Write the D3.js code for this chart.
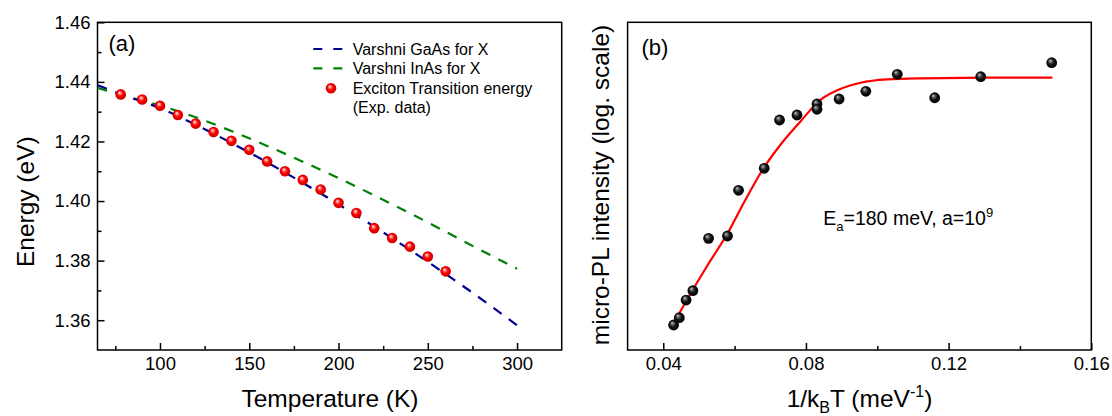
<!DOCTYPE html>
<html><head><meta charset="utf-8">
<script src="https://cdn.jsdelivr.net/npm/d3@7/dist/d3.min.js"></script>
<style>
body{margin:0;background:#fff}
text{font-family:"Liberation Sans",Arial,sans-serif;fill:#000}
</style>
</head><body>
<svg id="c" width="1112" height="416"></svg>
<script>
// ---------- data: panel (a) ----------
const expT = [78, 90, 100, 110, 120, 130, 140, 150, 160, 170, 180, 190, 200, 210, 220, 230, 240, 250, 260];
const expE = [1.4358, 1.4341, 1.4320, 1.4289, 1.4260, 1.4232, 1.4202, 1.4172, 1.4133, 1.4100, 1.4071, 1.4039, 1.3994, 1.3960, 1.3909, 1.3876, 1.3847, 1.3814, 1.3764];
const varT = [65, 80, 100, 120, 140, 160, 180, 200, 220, 240, 260, 280, 300];
const gaasE = [1.4389, 1.4355, 1.4312, 1.4256, 1.4195, 1.4130, 1.4061, 1.3989, 1.3914, 1.3836, 1.3755, 1.3671, 1.3583];
const inasE = [1.4380, 1.4353, 1.4321, 1.4281, 1.4235, 1.4185, 1.4132, 1.4077, 1.4019, 1.3959, 1.3897, 1.3834, 1.3773];
const xTicksA = [100, 150, 200, 250, 300];
const xMinorA = [75, 125, 175, 225, 275];
const yTicksA = [1.36, 1.38, 1.40, 1.42, 1.44, 1.46];
const yMinorA = [1.37, 1.39, 1.41, 1.43, 1.45];
const legendLabels = ["Varshni GaAs for X", "Varshni InAs for X", "Exciton Transition energy", "(Exp. data)"];

// ---------- data: panel (b) ----------
const invkT = [0.0429, 0.0445, 0.0464, 0.0483, 0.0527, 0.0580, 0.0611, 0.0683, 0.0726, 0.0775, 0.0831, 0.0831, 0.0893, 0.0968, 0.1056, 0.1161, 0.1290, 0.1489];
const plLog = [0.458, 0.591, 0.915, 1.086, 2.045, 2.087, 2.924, 3.327, 4.211, 4.303, 4.504, 4.407, 4.596, 4.737, 5.048, 4.619, 5.004, 5.260];
const fitX = [0.0429, 0.0466, 0.0522, 0.0580, 0.0630, 0.0681, 0.0728, 0.0784, 0.0840, 0.0896, 0.0953, 0.1028, 0.1121, 0.1308, 0.1491];
const fitLog = [0.489, 0.915, 1.529, 2.133, 2.746, 3.327, 3.753, 4.180, 4.577, 4.779, 4.894, 4.956, 4.975, 4.986, 4.986];
const xTicksB = [0.04, 0.08, 0.12, 0.16];
const xMinorB = [0.06, 0.10, 0.14];

const svg = d3.select("#c");
const FONT_TICK = 18.5, FONT_TITLE = 24.5;

// gradients for 3D balls
const defs = svg.append("defs");
const gR = defs.append("radialGradient").attr("id","ballRed").attr("cx","50%").attr("cy","50%").attr("r","55%").attr("fx","38%").attr("fy","32%");
gR.append("stop").attr("offset","0%").attr("stop-color","#ffffff");
gR.append("stop").attr("offset","22%").attr("stop-color","#ff8080");
gR.append("stop").attr("offset","50%").attr("stop-color","#ff0000");
gR.append("stop").attr("offset","100%").attr("stop-color","#c00000");
const gK = defs.append("radialGradient").attr("id","ballBlack").attr("cx","50%").attr("cy","50%").attr("r","55%").attr("fx","35%").attr("fy","30%");
gK.append("stop").attr("offset","0%").attr("stop-color","#d0d0d0");
gK.append("stop").attr("offset","25%").attr("stop-color","#606060");
gK.append("stop").attr("offset","55%").attr("stop-color","#101010");
gK.append("stop").attr("offset","100%").attr("stop-color","#000000");

function frame(x0, x1, y0, y1){
  svg.append("rect").attr("x",x0).attr("y",y1).attr("width",x1-x0).attr("height",y0-y1)
    .attr("fill","none").attr("stroke","#000").attr("stroke-width",1.5);
}
function styleAxis(g){
  g.select(".domain").remove();
  g.selectAll("line").attr("stroke","#000").attr("stroke-width",1.5);
  g.selectAll("text").attr("font-size",FONT_TICK).attr("font-family","Liberation Sans, Arial, sans-serif").attr("fill","#000");
}

// ================= Panel (a) =================
const xA = d3.scaleLinear().domain([65, 325]).range([97.5, 561.7]);
const yA = d3.scaleLinear().domain([1.35, 1.46]).range([350, 22.3]);

svg.append("g").attr("transform","translate(0,350)")
  .call(d3.axisBottom(xA).tickValues(xTicksA).tickFormat(d3.format("d")).tickSizeInner(-7).tickSizeOuter(0).tickPadding(7)).call(styleAxis);
svg.append("g").attr("transform","translate(0,350)")
  .call(d3.axisBottom(xA).tickValues(xMinorA).tickFormat("").tickSizeInner(-4).tickSizeOuter(0)).call(styleAxis);
svg.append("g").attr("transform","translate(97.5,0)")
  .call(d3.axisLeft(yA).tickValues(yTicksA).tickFormat(d3.format(".2f")).tickSizeInner(-7).tickSizeOuter(0).tickPadding(7)).call(styleAxis);
svg.append("g").attr("transform","translate(97.5,0)")
  .call(d3.axisLeft(yA).tickValues(yMinorA).tickFormat("").tickSizeInner(-4).tickSizeOuter(0)).call(styleAxis);
frame(97.5, 561.7, 350, 22.3);

const lineA = (ys) => d3.line().x((d,i)=>xA(varT[i])).y(d=>yA(d)).curve(d3.curveMonotoneX)(ys);
svg.append("path").attr("d", lineA(inasE)).attr("fill","none").attr("stroke","#008000").attr("stroke-width",2.2).attr("stroke-dasharray","10,9");
svg.append("path").attr("d", lineA(gaasE)).attr("fill","none").attr("stroke","#000090").attr("stroke-width",2.2).attr("stroke-dasharray","10,9");

svg.append("g").selectAll("circle").data(expT).join("circle")
  .attr("cx",(d)=>xA(d)).attr("cy",(d,i)=>yA(expE[i])).attr("r",5.3).attr("fill","url(#ballRed)");

svg.append("text").attr("x",108.5).attr("y",51).attr("font-size",22).text("(a)");

// legend
const leg = svg.append("g");
leg.append("line").attr("x1",313.3).attr("x2",343.3).attr("y1",49).attr("y2",49).attr("stroke","#000090").attr("stroke-width",2.2).attr("stroke-dasharray","9,11");
leg.append("line").attr("x1",313.3).attr("x2",343.3).attr("y1",68.3).attr("y2",68.3).attr("stroke","#008000").attr("stroke-width",2.2).attr("stroke-dasharray","9,11");
leg.append("circle").attr("cx",331).attr("cy",88.3).attr("r",5.3).attr("fill","url(#ballRed)");
const legY = [55, 74.3, 94, 112.5];
legendLabels.forEach((t,i)=>{
  leg.append("text").attr("x",352.7).attr("y",legY[i]).attr("font-size",16).text(t);
});

svg.append("text").attr("x",330).attr("y",407).attr("text-anchor","middle").attr("font-size",FONT_TITLE).text("Temperature (K)");
svg.append("text").attr("transform","translate(34,201.7) rotate(-90)").attr("text-anchor","middle").attr("font-size",FONT_TITLE).text("Energy (eV)");

// ================= Panel (b) =================
const xB = d3.scaleLinear().domain([0.03, 0.16]).range([627.6, 1091.3]);
const yB = d3.scaleLinear().domain([0, 6]).range([350, 22.3]);

svg.append("g").attr("transform","translate(0,350)")
  .call(d3.axisBottom(xB).tickValues(xTicksB).tickFormat(d3.format(".2f")).tickSizeInner(-7).tickSizeOuter(0).tickPadding(7)).call(styleAxis);
svg.append("g").attr("transform","translate(0,350)")
  .call(d3.axisBottom(xB).tickValues(xMinorB).tickFormat("").tickSizeInner(-4).tickSizeOuter(0)).call(styleAxis);
frame(627.6, 1091.3, 350, 22.3);

svg.append("path")
  .attr("d", d3.line().x((d,i)=>xB(fitX[i])).y(d=>yB(d)).curve(d3.curveMonotoneX)(fitLog))
  .attr("fill","none").attr("stroke","#ff0000").attr("stroke-width",2.2);

svg.append("g").selectAll("circle").data(invkT).join("circle")
  .attr("cx",d=>xB(d)).attr("cy",(d,i)=>yB(plLog[i])).attr("r",5.4).attr("fill","url(#ballBlack)");

svg.append("text").attr("x",641.5).attr("y",55).attr("font-size",22).text("(b)");

const ann = svg.append("text").attr("x",823.3).attr("y",225).attr("font-size",19.5);
ann.append("tspan").text("E");
ann.append("tspan").attr("font-size",13).attr("dy",6).text("a");
ann.append("tspan").attr("dy",-6).text("=180 meV, a=10");
ann.append("tspan").attr("font-size",13).attr("dy",-8).text("9");

const tb = svg.append("text").attr("x",859.5).attr("y",407).attr("text-anchor","middle").attr("font-size",FONT_TITLE);
tb.append("tspan").text("1/k");
tb.append("tspan").attr("font-size",16).attr("dy",6).text("B");
tb.append("tspan").attr("dy",-6).text("T (meV");
tb.append("tspan").attr("font-size",16).attr("dy",-10).text("-1");
tb.append("tspan").attr("dy",10).text(")");

svg.append("text").attr("transform","translate(609,185) rotate(-90)").attr("text-anchor","middle").attr("font-size",FONT_TITLE).text("micro-PL intensity (log. scale)");
</script>
</body></html>
